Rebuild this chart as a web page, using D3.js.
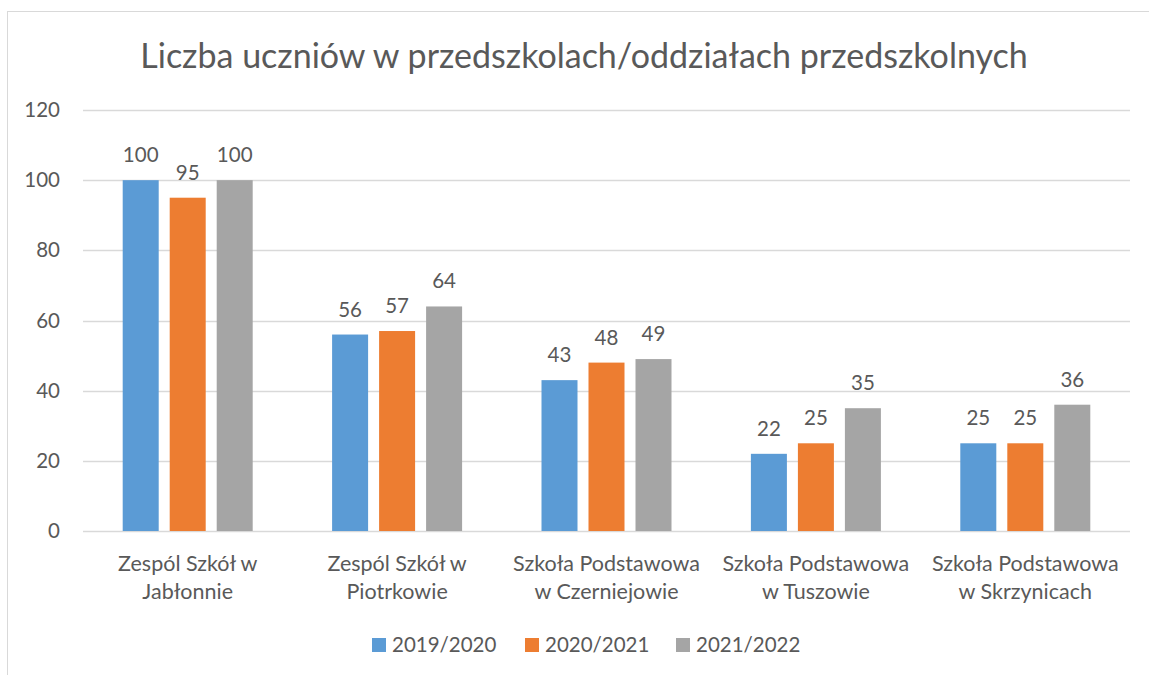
<!DOCTYPE html>
<html>
<head>
<meta charset="utf-8">
<script src="https://cdn.jsdelivr.net/npm/d3@7"></script>
<style>
  body { margin: 0; background: #fff; }
  text { font-family: Lato, "Open Sans", sans-serif; fill: #595959; }
</style>
</head>
<body>
<script>
// data
var categories = [
  "Zespól Szkół w\nJabłonnie",
  "Zespól Szkół w\nPiotrkowie",
  "Szkoła Podstawowa\nw Czerniejowie",
  "Szkoła Podstawowa\nw Tuszowie",
  "Szkoła Podstawowa\nw Skrzynicach"
];
var seriesNames = ["2019/2020", "2020/2021", "2021/2022"];
var values2019 = [100, 56, 43, 22, 25];
var values2020 = [95, 57, 48, 25, 25];
var values2021 = [100, 64, 49, 35, 36];
var yTicks = [0, 20, 40, 60, 80, 100, 120];
var colors = ["#5B9BD5", "#ED7D31", "#A5A5A5"];

var series = [values2019, values2020, values2021];

var width = 1149, height = 675;
var plotLeft = 83, plotRight = 1130, plotTop = 110, plotBottom = 531;

var svg = d3.select("body").append("svg")
  .attr("width", width)
  .attr("height", height);

// chart frame
svg.append("rect")
  .attr("x", 7.5).attr("y", 11.5)
  .attr("width", 1200).attr("height", 700)
  .attr("fill", "none")
  .attr("stroke", "#d9d9d9")
  .attr("stroke-width", 1);

svg.append("text")
  .attr("x", 584).attr("y", 68)
  .attr("text-anchor", "middle")
  .style("font-size", "34px")
  .text("Liczba uczniów w przedszkolach/oddziałach przedszkolnych");

var y = d3.scaleLinear().domain([0, 120]).range([plotBottom, plotTop]);
var x0 = d3.scaleBand().domain(d3.range(categories.length)).range([plotLeft, plotRight]);
var x1 = d3.scaleBand().domain(d3.range(series.length)).range([0, 130]).paddingInner(0.234);

// grid
svg.append("g").selectAll("line").data(yTicks).join("line")
  .attr("x1", plotLeft).attr("x2", plotRight)
  .attr("y1", function (d) { return Math.round(y(d)) + 0.5; })
  .attr("y2", function (d) { return Math.round(y(d)) + 0.5; })
  .attr("stroke", "#d9d9d9")
  .attr("stroke-width", 1.3);

svg.append("g").selectAll("text").data(yTicks).join("text")
  .attr("x", 60)
  .attr("y", function (d) { return y(d) + 7; })
  .attr("text-anchor", "end")
  .style("font-size", "20.5px")
  .text(function (d) { return d; });

// bars
var groups = svg.append("g").selectAll("g").data(categories).join("g")
  .attr("transform", function (d, i) {
    return "translate(" + (x0(i) + x0.bandwidth() / 2 - 65) + ",0)";
  });

groups.each(function (c, i) {
  var g = d3.select(this);
  series.forEach(function (s, j) {
    g.append("rect")
      .attr("x", x1(j))
      .attr("y", y(s[i]))
      .attr("width", x1.bandwidth())
      .attr("height", y(0) - y(s[i]))
      .attr("fill", colors[j]);
    g.append("text")
      .attr("x", x1(j) + x1.bandwidth() / 2)
      .attr("y", y(s[i]) - 18)
      .attr("text-anchor", "middle")
      .style("font-size", "20.5px")
      .text(s[i]);
  });
});

// category labels
svg.append("g").selectAll("text").data(categories).join("text")
  .attr("x", function (d, i) { return x0(i) + x0.bandwidth() / 2; })
  .attr("y", 571)
  .attr("text-anchor", "middle")
  .style("font-size", "21.5px")
  .each(function (d) {
    var t = d3.select(this);
    d.split("\n").forEach(function (line, k) {
      t.append("tspan")
        .attr("x", t.attr("x"))
        .attr("dy", k === 0 ? 0 : 28)
        .text(line);
    });
  });

// legend
var legendX = [372, 525, 676];
var legend = svg.append("g").selectAll("g").data(seriesNames).join("g")
  .attr("transform", function (d, i) { return "translate(" + legendX[i] + ",638)"; });
legend.append("rect")
  .attr("width", 14).attr("height", 14)
  .attr("fill", function (d, i) { return colors[i]; });
legend.append("text")
  .attr("x", 20).attr("y", 14)
  .style("font-size", "20.5px")
  .text(function (d) { return d; });
</script>
</body>
</html>
